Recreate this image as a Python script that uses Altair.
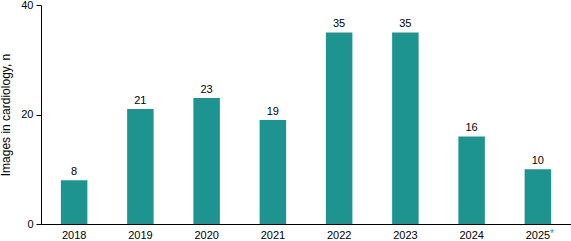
import altair as alt
import pandas as pd

years = ["2018", "2019", "2020", "2021", "2022", "2023", "2024", "2025"]
counts = [8, 21, 23, 19, 35, 35, 16, 10]
y_ticks = [0, 20, 40]

df = pd.DataFrame({"year": years, "n": counts})
TEAL = "#1e9490"
FONT = "Liberation Sans"

base = alt.Chart(df).encode(
    x=alt.X("year:N", sort=years,
            scale=alt.Scale(paddingInner=0.6, paddingOuter=0.3),
            axis=alt.Axis(title=None, ticks=False, labelAngle=0, domainColor="black",
                          labelColor="black", labelFontSize=11, labelFont=FONT, labelPadding=5,
                          domainWidth=1))
)

bars = base.mark_bar(color=TEAL).encode(
    y=alt.Y("n:Q", scale=alt.Scale(domain=[0, 40]),
            axis=alt.Axis(values=y_ticks, title="Images in cardiology, n", grid=False,
                          domainColor="black", tickColor="black", tickSize=5,
                          labelColor="black", labelFontSize=11, labelFont=FONT,
                          titleFont=FONT, titleFontSize=12, titleFontWeight="normal",
                          titleColor="black", titlePadding=8, labelPadding=3))
)

labels = base.mark_text(dy=-8, fontSize=11, font=FONT, color="black").encode(
    y="n:Q", text="n:Q"
)

star_df = pd.DataFrame({"year": ["2025"], "s": ["*"]})
star = alt.Chart(star_df).mark_text(dx=14, fontSize=10, font=FONT, color=TEAL, baseline="top").encode(
    x=alt.X("year:N", sort=years), y=alt.value(224), text="s:N"
)

chart = alt.layer(bars, labels, star).properties(
    width=530, height=219,
    autosize=alt.AutoSizeParams(type="none"),
    padding={"left": 41, "top": 5, "right": 0, "bottom": 17},
).configure_view(stroke=None)

chart.save("out.html", embed_options={"renderer": "svg", "actions": False})
